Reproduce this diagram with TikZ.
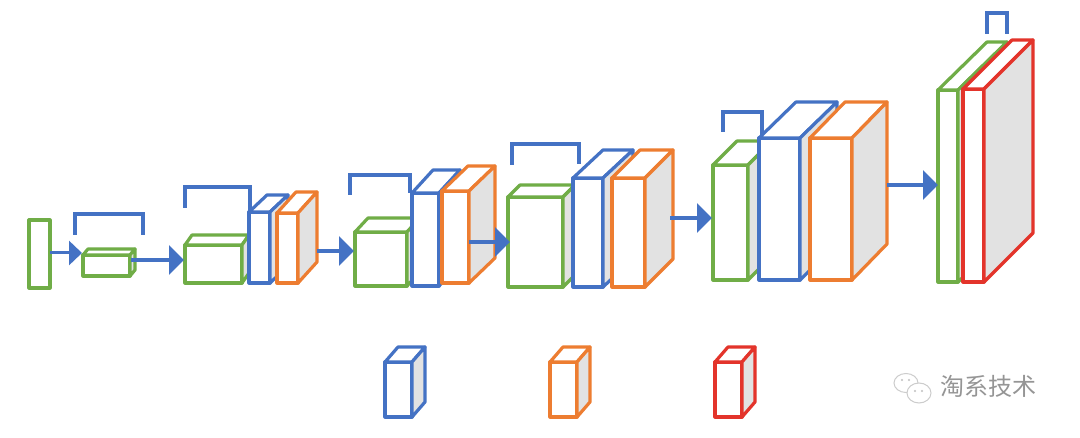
\documentclass[tikz,border=0pt]{standalone}
\usepackage{fontspec}
\newfontfamily\cjk{Noto Sans CJK SC}
\usetikzlibrary{arrows.meta}
\definecolor{cgreen}{HTML}{70AD47}
\definecolor{cblue}{HTML}{4472C4}
\definecolor{corange}{HTML}{ED7D31}
\definecolor{cred}{HTML}{E3342B}
\definecolor{cside}{HTML}{E2E2E2}
\definecolor{wmgray}{HTML}{959595}
\tikzset{
  boxline/.style={line width=3.2pt,line join=round},
  bracketline/.style={line width=3.2pt,draw=cblue,line join=miter},
  flowarrow/.style={draw=cblue,line width=4.6pt,-{Triangle[length=15pt,width=29pt]},cblue},
  thinarrow/.style={draw=cblue,line width=3pt,-{Triangle[length=13pt,width=24pt]},cblue},
}
% color, x1, y1, x2, y2, dx, dy  (pixel coordinates, y downwards)
\newcommand\mycuboid[7]{%
  \draw[boxline,draw=#1,fill=white] (#2,#3) rectangle (#4,#5);
  \draw[boxline,draw=#1,fill=white] (#2,#3) -- ({#2+#6},{#3-#7}) -- ({#4+#6},{#3-#7}) -- (#4,#3) -- cycle;
  \draw[boxline,draw=#1,fill=cside] (#4,#3) -- ({#4+#6},{#3-#7}) -- ({#4+#6},{#5-#7}) -- (#4,#5) -- cycle;
}
% xL, xR, ytop, yLbottom, yRbottom
\newcommand\mybracket[5]{%
  \draw[bracketline] (#1,#4) -- (#1,#3) -- (#2,#3) -- (#2,#5);
}
\begin{document}
\begin{tikzpicture}[x=1pt,y=-1pt]
\useasboundingbox[fill=white] (0,0) rectangle (1080,438);

% stage 1: input
\draw[boxline,draw=cgreen,fill=white] (29,220) rectangle (50,288);

% stage 2
\mybracket{75}{143}{214}{235}{235}
\mycuboid{cgreen}{83}{255}{130}{276}{5}{6}

% stage 3
\mycuboid{cgreen}{185}{245}{242}{283}{7}{10}
\mybracket{185}{250}{187}{208}{211}
\mycuboid{cblue}{249}{212}{270}{283}{18}{17}
\mycuboid{corange}{277}{213}{298}{283}{19}{21}

% stage 4
\mycuboid{cgreen}{355}{232}{407}{286}{13}{14}
\mybracket{350}{410}{175}{195}{193}
\mycuboid{cblue}{412}{193}{439}{286}{21}{23}
\mycuboid{corange}{442}{191}{469}{283}{26}{25}

% stage 5
\mycuboid{cgreen}{508}{197}{563}{287}{12}{12}
\mybracket{512}{579}{144}{165}{164}
\mycuboid{cblue}{573}{178}{603}{287}{30}{28}
\mycuboid{corange}{612}{178}{645}{287}{28}{28}

% stage 6
\mycuboid{cgreen}{713}{165}{748}{280}{24}{24}
\mybracket{723}{762}{112}{132}{136}
\mycuboid{cblue}{759}{138}{800}{280}{37}{36}
\mycuboid{corange}{810}{138}{852}{280}{35}{36}

% stage 7
\mycuboid{cgreen}{938}{90}{958}{282}{49}{48}
\mycuboid{cred}{963}{89}{984}{282}{49}{49}
\mybracket{987}{1007}{13}{34}{34}

% arrows
\coordinate (a1s) at (50,253);  \coordinate (a1e) at (82,253);
\coordinate (a2s) at (131,260); \coordinate (a2e) at (184,260);
\coordinate (a3s) at (317,251); \coordinate (a3e) at (354,251);
\coordinate (a4s) at (469,242); \coordinate (a4e) at (510,242);
\coordinate (a5s) at (670,218); \coordinate (a5e) at (712,218);
\coordinate (a6s) at (887,185); \coordinate (a6e) at (938,185);
\draw[thinarrow] (a1s) -- (a1e);
\draw[flowarrow] (a2s) -- (a2e);
\draw[flowarrow] (a3s) -- (a3e);
\draw[flowarrow] (a4s) -- (a4e);
\draw[flowarrow] (a5s) -- (a5e);
\draw[flowarrow] (a6s) -- (a6e);

% legend
\mycuboid{cblue}{385}{362}{412}{417}{13}{15}
\mycuboid{corange}{550}{362}{577}{417}{13}{15}
\mycuboid{cred}{715}{362}{742}{417}{13}{15}

% watermark
\draw[line width=1pt,draw=gray!40,fill=white] (906,383) ellipse [x radius=12,y radius=9.5];
\draw[line width=1pt,draw=gray!40,fill=white] (919,393) ellipse [x radius=12,y radius=10];
\fill[gray!50] (902,380) circle (1.2) (909,380) circle (1.2) (915,391) circle (1.2) (922,391) circle (1.2);
\node[text=wmgray,font=\cjk\fontsize{24}{26}\selectfont,inner sep=0pt,anchor=west] (wm) at (940,386) {淘系技术};
\end{tikzpicture}
\end{document}
